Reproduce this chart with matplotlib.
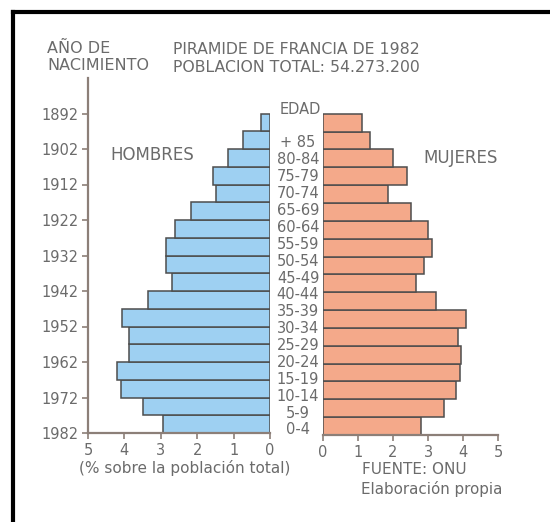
import numpy as np
import matplotlib.pyplot as plt
from matplotlib.lines import Line2D

# Age groups, bottom to top (top bar has no label, sits next to "EDAD")
ages = ["0-4", "5-9", "10-14", "15-19", "20-24", "25-29", "30-34", "35-39",
        "40-44", "45-49", "50-54", "55-59", "60-64", "65-69", "70-74",
        "75-79", "80-84", "+ 85"]
# % of total population, bottom to top
hombres = [2.95, 3.49, 4.09, 4.20, 3.88, 3.88, 4.06, 3.35, 2.69, 2.87,
           2.87, 2.62, 2.17, 1.48, 1.57, 1.16, 0.75, 0.25]
mujeres = [2.81, 3.45, 3.81, 3.92, 3.95, 3.86, 4.08, 3.24, 2.67, 2.88,
           3.10, 3.00, 2.52, 1.86, 2.40, 2.00, 1.35, 1.10]
years = [1982, 1972, 1962, 1952, 1942, 1932, 1922, 1912, 1902, 1892]
xticks = [0, 1, 2, 3, 4, 5]

W, H = 550, 522
txt = "#6b6b6b"
spine = "#8c7f78"
blue = "#9ed0f2"
salmon = "#f4a98a"
edge = "#4d4d4d"
plt.rcParams['font.family'] = "DejaVu Sans"

fig = plt.figure(figsize=(W / 100, H / 100), dpi=100)


def ax_box(x0, y0, x1, y1):
    return [x0 / W, 1 - y1 / H, (x1 - x0) / W, (y1 - y0) / H]


pos = np.arange(len(ages)) + 0.5

# ---- left panel: men ----
axl = fig.add_axes(ax_box(88, 78, 270, 433))
axl.barh(pos, hombres, height=1.0, color=blue, edgecolor=edge, linewidth=1.1)
axl.set_xlim(5, 0)
axl.set_ylim(0, 20)
axl.set_xticks(xticks)
axl.set_xticklabels([str(v) for v in xticks], fontsize=10.5, color=txt)
axl.set_yticks(np.arange(0, 20, 2))
axl.set_yticklabels([str(y) for y in years], fontsize=10.5, color=txt)
for s in ["top", "right"]:
    axl.spines[s].set_visible(False)
for s in ["left", "bottom"]:
    axl.spines[s].set_color(spine)
    axl.spines[s].set_linewidth(1.6)
axl.tick_params(axis="both", colors=spine, length=4, width=1.2, labelcolor=txt)
axl.tick_params(axis="y", pad=3)
axl.tick_params(axis="x", pad=3)
axl.set_facecolor("none")

# ---- right panel: women ----
axr = fig.add_axes(ax_box(323, 78, 498, 435))
axr.barh(pos, mujeres, height=1.0, color=salmon, edgecolor=edge, linewidth=1.1)
axr.set_xlim(0, 5)
axr.set_ylim(0, 20)
axr.set_xticks(xticks)
axr.set_xticklabels([str(v) for v in xticks], fontsize=10.5, color=txt)
axr.set_yticks([])
for s in ["top", "right", "left"]:
    axr.spines[s].set_visible(False)
axr.spines["bottom"].set_color(spine)
axr.spines["bottom"].set_linewidth(1.6)
axr.tick_params(axis="x", colors=spine, length=4, width=1.2, labelcolor=txt, pad=3)
axr.set_facecolor("none")

# ---- age labels in the middle (slightly tighter than the bars, as printed) ----
label_pos = np.linspace(0.17, 16.34, len(ages))
for p, a in zip(label_pos, ages):
    y = axl.transData.transform((0, p))[1]
    fig.text(298 / W, y / H, a, ha="center", va="center", fontsize=10.5, color=txt)
fig.text(300 / W, 1 - 110 / H, "EDAD", ha="center", va="center", fontsize=10.5, color=txt)

# ---- texts ----
fig.text(47 / W, 1 - 48 / H, "AÑO DE", ha="left", va="center", fontsize=11.5, color=txt)
fig.text(47 / W, 1 - 66 / H, "NACIMIENTO", ha="left", va="center", fontsize=11.5, color=txt)
fig.text(296 / W, 1 - 50 / H, "PIRAMIDE DE FRANCIA DE 1982", ha="center", va="center",
         fontsize=11.3, color=txt)
fig.text(296 / W, 1 - 67 / H, "POBLACION TOTAL: 54.273.200", ha="center", va="center",
         fontsize=11.3, color=txt)
fig.text(152 / W, 1 - 155 / H, "HOMBRES", ha="center", va="center", fontsize=12, color=txt)
fig.text(461 / W, 1 - 158 / H, "MUJERES", ha="center", va="center", fontsize=12, color=txt)
fig.text(185 / W, 1 - 468 / H, "(% sobre la población total)", ha="center", va="center",
         fontsize=11, color=txt)
fig.text(362 / W, 1 - 470 / H, "FUENTE: ONU", ha="left", va="center", fontsize=11, color=txt)
fig.text(361 / W, 1 - 489 / H, "Elaboración propia", ha="left", va="center",
         fontsize=10.9, color=txt)

# ---- black frame (left and top edges) ----
fx, fy = 13 / W, 1 - 12 / H
fig.add_artist(Line2D([fx, fx], [0, fy], transform=fig.transFigure, color="black", lw=3))
fig.add_artist(Line2D([fx, 1], [fy, fy], transform=fig.transFigure, color="black", lw=3))

fig.savefig("out.png", dpi=100)
